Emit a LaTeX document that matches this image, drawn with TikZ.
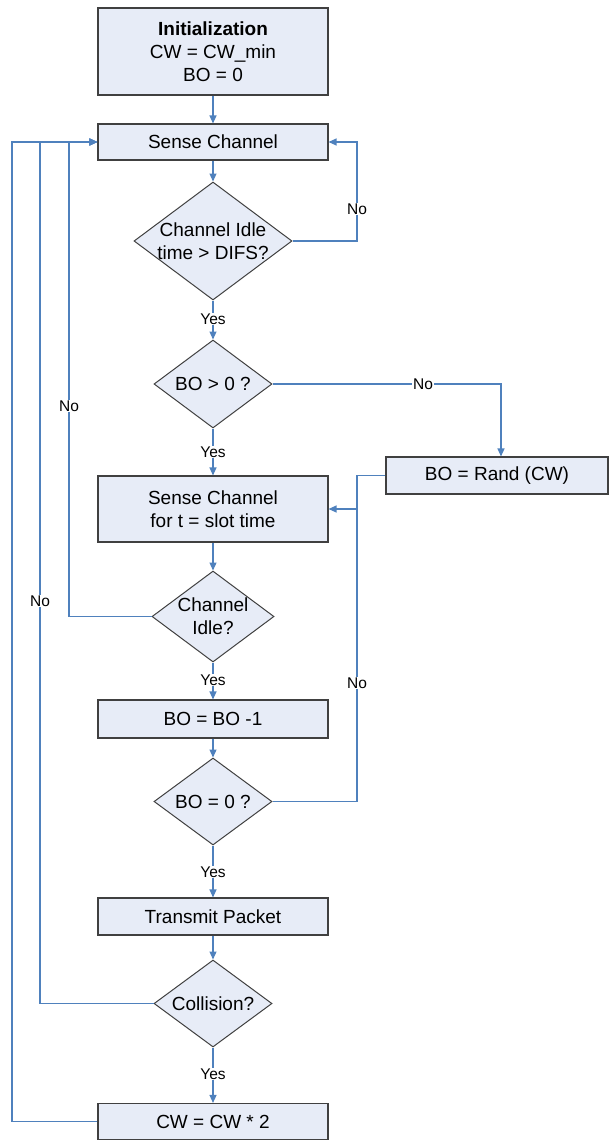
\documentclass[tikz,border=0pt]{standalone}
\usepackage{fontspec}
\setmainfont{Liberation Sans}
\usetikzlibrary{arrows.meta,shapes.geometric}
\definecolor{boxfill}{RGB}{231,236,247}
\definecolor{linkblue}{RGB}{79,129,189}
\definecolor{boxline}{RGB}{64,64,64}
\tikzset{
  procbox/.style={draw=boxline,line width=1.1pt,fill=boxfill,rectangle,inner sep=0pt,
    minimum width=230pt,align=center,font=\fontsize{19}{23}\selectfont},
  decbox/.style={draw=boxline,line width=1.0pt,fill=boxfill,diamond,inner sep=0pt},
  dectext/.style={align=center,inner sep=0pt,font=\fontsize{19}{23}\selectfont},
  link/.style={draw=linkblue,line width=1.2pt,-{Triangle[length=8pt,width=7pt]}},
  plainlink/.style={draw=linkblue,line width=1.2pt},
  lbl/.style={fill=white,inner sep=1pt,font=\fontsize{15.5}{18}\selectfont}
}
\begin{document}
\begin{tikzpicture}[x=1pt,y=-1pt]
\useasboundingbox (0,0) rectangle (609,1140);
% process boxes
\node[procbox,minimum height=87pt] (init) at (213,51.5) {\textbf{Initialization}\\CW = CW\_min\\BO = 0};
\node[procbox,minimum height=36pt] (sense) at (213,142) {Sense Channel};
\node[procbox,minimum height=37pt,minimum width=222pt] (rand) at (497,475.5) {BO = Rand (CW)};
\node[procbox,minimum height=66pt] (slot) at (213,509) {Sense Channel\\for t = slot time};
\node[procbox,minimum height=38pt] (dec) at (213,719) {BO = BO -1};
\node[procbox,minimum height=37pt] (tx) at (213,916.5) {Transmit Packet};
\node[procbox,minimum height=36pt] (cw2) at (213,1121.5) {CW = CW * 2};
% decisions
\node[decbox,minimum width=158pt,minimum height=118pt] (d1) at (213,241) {};
\node[dectext] at (d1) {Channel Idle\\time > DIFS?};
\node[decbox,minimum width=118pt,minimum height=88pt] (d2) at (213,384) {};
\node[dectext] at (d2) {BO > 0 ?};
\node[decbox,minimum width=122pt,minimum height=91pt] (d3) at (213,616.5) {};
\node[dectext] at (d3) {Channel\\Idle?};
\node[decbox,minimum width=118pt,minimum height=87pt] (d4) at (213,801.5) {};
\node[dectext] at (d4) {BO = 0 ?};
\node[decbox,minimum width=118pt,minimum height=87pt] (d5) at (213,1003.5) {};
\node[dectext] at (d5) {Collision?};
% connectors
\draw[link] (init.south) -- (sense.north);
\draw[link] (sense.south) -- (d1.north);
\draw[link] (d1.east) -- (357,241) -- (357,142) -- (sense.east);
\node[lbl] at (357,209) {No};
\draw[link] (d1.south) -- (d2.north);
\node[lbl] at (213,319) {Yes};
\draw[link] (d2.east) -| ([xshift=4pt]rand.north);
\node[lbl] at (423,384) {No};
\draw[link] (d2.south) -- (slot.north);
\node[lbl] at (213,452) {Yes};
\draw[link] (rand.west) -- (357,475.5) -- (357,509) -- (slot.east);
\draw[link] (slot.south) -- (d3.north);
\draw[link] (d3.west) -- (69,616.5) -- (69,142) -- (sense.west);
\node[lbl] at (69,406) {No};
\draw[link] (d3.south) -- (dec.north);
\node[lbl] at (213,680) {Yes};
\draw[link] (dec.south) -- (d4.north);
\draw[plainlink] (d4.east) -- (357,801.5) -- (357,509);
\node[lbl] at (357,683) {No};
\draw[link] (d4.south) -- (tx.north);
\node[lbl] at (213,872) {Yes};
\draw[link] (tx.south) -- (d5.north);
\draw[link] (d5.west) -- (40,1003.5) -- (40,142) -- (sense.west);
\node[lbl] at (40,601) {No};
\draw[link] (d5.south) -- (cw2.north);
\node[lbl] at (213,1074) {Yes};
\draw[link] (cw2.west) -- (12,1121.5) -- (12,142) -- (sense.west);
\end{tikzpicture}
\end{document}
